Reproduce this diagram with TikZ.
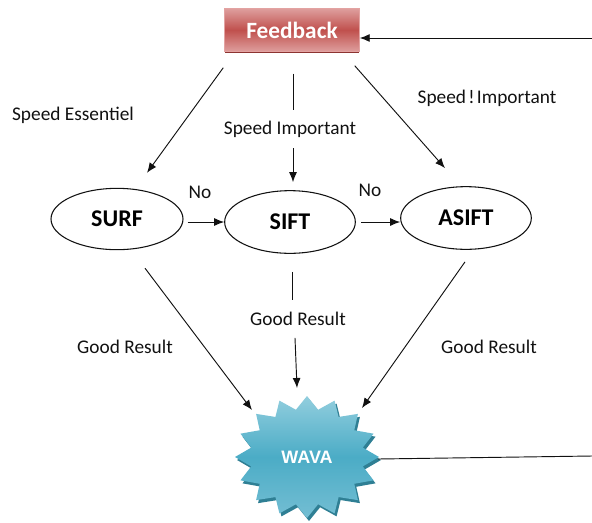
\documentclass[tikz,border=0pt]{standalone}
\usepackage{fontspec}
\setmainfont{Carlito}
\newfontfamily\wavafont{Liberation Sans}
\usetikzlibrary{arrows.meta,shapes.geometric,shadows}

\definecolor{fbLight}{HTML}{DE9E9D}
\definecolor{fbMid}{HTML}{C0504D}
\definecolor{fbEdge}{HTML}{E3A3A2}
\definecolor{fbShadow}{HTML}{8C3431}
\definecolor{wvTop}{HTML}{92CEDE}
\definecolor{wvMid}{HTML}{4BACC6}
\definecolor{wvBot}{HTML}{74BED3}
\definecolor{wvShadow}{HTML}{2F7F94}
\definecolor{ink}{HTML}{111111}

\begin{document}
\begin{tikzpicture}[x=0.75pt,y=-0.75pt,
  arr/.style={draw=ink,line width=0.7pt,-{Latex[length=7.5pt,width=6pt]}},
  link/.style={draw=ink,line width=0.7pt},
  algo/.style={ellipse,draw=ink,line width=0.8pt,fill=white,
    minimum width=98pt,minimum height=47pt,inner sep=0pt,
    font=\fontsize{18}{20}\selectfont\bfseries},
  lbl/.style={inner sep=0pt,font=\fontsize{14.5}{16}\selectfont,text=ink},
  gaplbl/.style={lbl,minimum height=28pt}]

\useasboundingbox (0,0) rectangle (592,522);

% Feedback box
\node (fb) [rectangle,draw=fbEdge,line width=0.6pt,
  top color=fbLight,bottom color=fbLight,middle color=fbMid,
  drop shadow={shadow xshift=0pt,shadow yshift=-1.6pt,fill=fbShadow,opacity=1},
  minimum width=101pt,minimum height=32pt,inner sep=0pt,
  text=white,font=\fontsize{17.5}{20}\selectfont\bfseries]
  at (292,30) {Feedback};

% Algorithms
\node (surf)  [algo,minimum width=99pt,minimum height=46pt] at (117,219) {SURF};
\node (sift)  [algo] at (290,222) {SIFT};
\node (asift) [algo] at (466,218) {ASIFT};

% WAVA starburst
\begin{scope}[shift={(309,460)}]
  \fill[wvShadow] plot[samples at={0,...,31},variable=\k]
    ({(1-0.21*mod(\k,2))*72*cos(\k*11.25)},{(1-0.21*mod(\k,2))*61*sin(\k*11.25)}) -- cycle;
\end{scope}
\begin{scope}[shift={(307,457)}]
  \path[top color=wvTop,bottom color=wvBot,middle color=wvMid]
    plot[samples at={0,...,31},variable=\k]
    ({(1-0.21*mod(\k,2))*72*cos(\k*11.25)},{(1-0.21*mod(\k,2))*61*sin(\k*11.25)}) -- cycle;
\end{scope}
\node (wava) [circle,inner sep=0pt,minimum size=90pt,text=white,
  font=\wavafont\fontsize{13.5}{15}\selectfont\bfseries] at (307,457) {WAVA};

% Text labels
\node (lse)  [lbl] at (73,115) {Speed Essentiel};
\node (lsi)  [gaplbl,minimum height=28.5pt] at (290,129) {Speed Important};
\node (lsni) [lbl] at (487,98) {Speed\hspace{0.12em}!\hspace{0.12em}Important};
\node (lno1) [lbl] at (200,192) {No};
\node (lno2) [lbl] at (370,190) {No};
\node (lgr1) [lbl] at (125,347) {Good Result};
\node (lgr2) [gaplbl] at (298,319) {Good Result};
\node (lgr3) [lbl] at (489,347) {Good Result};

% Feedback to the algorithms
\draw[arr] ([shift={(-1,16)}]fb.south west) -- ([shift={(30,-15)}]surf.north);
\draw[link] ([shift={(1,22)}]fb.south) -- ([shift={(3,0)}]lsi.north);
\draw[arr] ([shift={(3,0)}]lsi.south) -- ([shift={(3,-8)}]sift.north);
\draw[arr] ([shift={(-5,14)}]fb.south east) -- ([shift={(-21,-18)}]asift.north);

% Fallbacks
\draw[arr,shorten <=3pt] (surf.east |- sift.west) -- (sift.west);
\draw[arr,shorten <=4pt] (sift.east) -- (asift.west |- sift.east);

% Results to WAVA
\draw[arr] ([shift={(28,18)}]surf.south) -- ([shift={(-55,-47)}]wava.center);
\draw[link] ([shift={(2,18)}]sift.south) -- ([shift={(-6,0)}]lgr2.north);
\draw[arr] ([shift={(-3,0)}]lgr2.south) -- ([shift={(-10,-69)}]wava.center);
\draw[arr] ([shift={(-1,12)}]asift.south) -- ([shift={(55,-49)}]wava.center);

% Loop back to Feedback
\coordinate (loopOut) at (592,456);
\coordinate (loopIn) at (592,38);
\draw[link] ([shift={(71,2)}]wava.center) -- (loopOut);
\draw[arr] (loopIn) -- (fb.east |- loopIn);
\end{tikzpicture}
\end{document}
